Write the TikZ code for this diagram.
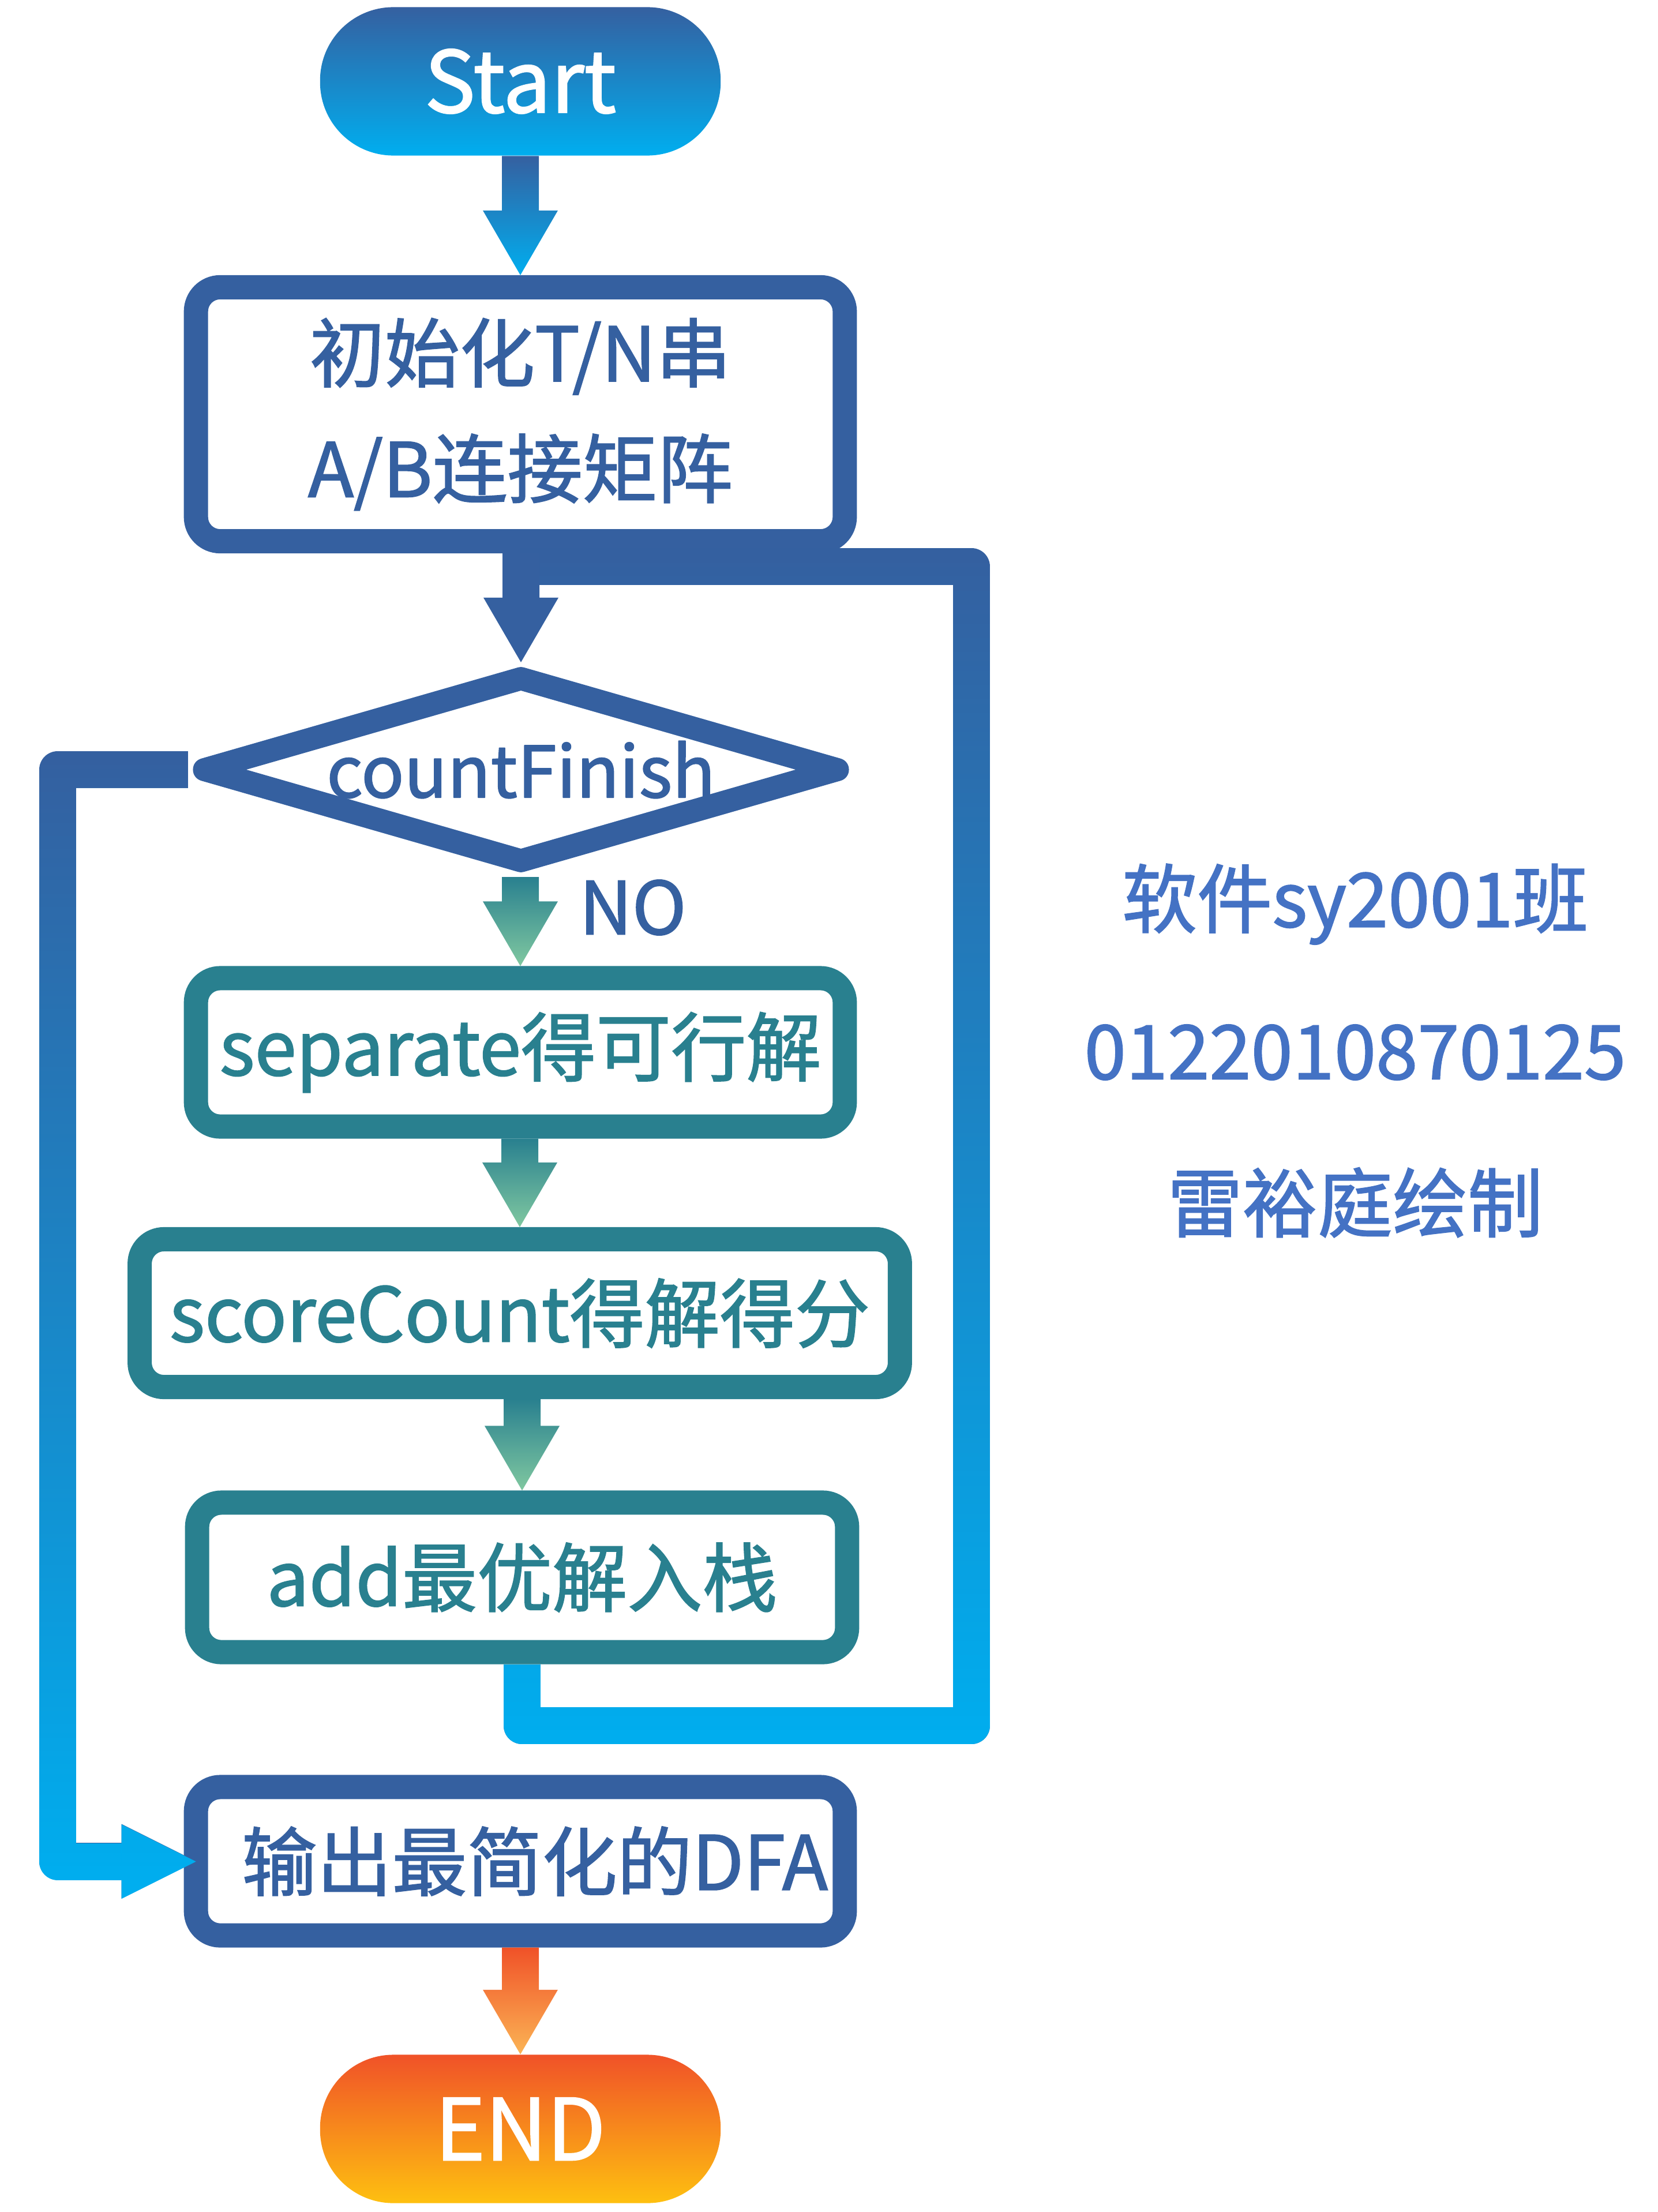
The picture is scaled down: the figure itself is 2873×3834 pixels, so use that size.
\documentclass[tikz,border=0pt]{standalone}
\usepackage{fontspec}
\setmainfont{Noto Sans CJK SC}[FakeBold=1.5]
\usetikzlibrary{calc,shapes.geometric,arrows.meta,fadings}
\definecolor{cblue}{RGB}{53,96,160}
\definecolor{ccyan}{RGB}{0,174,239}
\definecolor{cteal}{RGB}{41,128,143}
\definecolor{cmint}{RGB}{128,200,160}
\definecolor{cred}{RGB}{240,82,40}
\definecolor{cpeach}{RGB}{251,180,85}
\definecolor{cgold}{RGB}{254,192,16}
\definecolor{cword}{RGB}{68,114,196}
\tikzfading[name=updim, top color=transparent!100, bottom color=transparent!0]
\tikzset{
	boxtext/.style = {align=center, inner sep=0pt, text centered, font=\fontsize{37pt}{57pt}\selectfont},
	term/.style = {boxtext, rectangle, rounded corners=1.27cm, minimum width=6.94cm, minimum height=2.57cm, text=white, font=\fontsize{42pt}{50pt}\selectfont},
	blubox/.style = {boxtext, rectangle, draw=cblue, line width=0.42cm, rounded corners=0.42cm, fill=white, text=cblue},
	tealbox/.style = {blubox, draw=cteal, text=cteal},
	decide/.style = {boxtext, diamond, draw=cblue, line width=0.4cm, line join=round, fill=white, text=cblue, shape aspect=3.35, minimum width=11.13cm, minimum height=3.32cm, font=\fontsize{35pt}{40pt}\selectfont},
	backline/.style = {line width=0.64cm, line join=round},
	note/.style = {boxtext, text=cword}
}
\newcommand\flowarrow[4]{\shade [top color=#3, bottom color=#4] ($(#1 -| #2)+(-32,0)$) -- ($(#2)+(-32,-112)$) -- ($(#2)+(-65,-112)$) -- (#2) -- ($(#2)+(65,-112)$) -- ($(#2)+(32,-112)$) -- ($(#1 -| #2)+(32,0)$) -- cycle;}

\begin{document}
\begin{tikzpicture}[x=0.01cm, y=-0.01cm]
	\useasboundingbox (0,0) rectangle (2873,3834);
	\node [term, top color=cblue, bottom color=ccyan] (start) at (902,141) {Start};
	\node [blubox, minimum width=11.24cm, minimum height=4.4cm] (init) at (902,718) {初始化T/N串\\A/B连接矩阵};
	\node [decide] (cf) at (903,1334) {countFinish};
	\node [tealbox, minimum width=11.24cm, minimum height=2.57cm] (sep) at (902,1824) {separate得可行解};
	\node [tealbox, minimum width=13.17cm, minimum height=2.56cm] (score) at (901,2276) {scoreCount得解得分};
	\node [tealbox, minimum width=11.26cm, minimum height=2.59cm] (add) at (905,2734) {add最优解入栈};
	\node [blubox, minimum width=11.24cm, minimum height=2.57cm] (out) at (902,3226) {\hspace*{0.5cm}输出最简化的DFA};
	\node [term, top color=cred, bottom color=cgold] (end) at (902,3690) {END};
	\node [boxtext, text=cblue, font=\fontsize{36pt}{40pt}\selectfont] (no) at (1097,1573) {NO};
	\node [note, font=\fontsize{37pt}{75pt}\selectfont] (credit) at (2349,1821) {软件sy2001班\\0122010870125\\雷裕庭绘制};
	\coordinate (lpb) at (1684,2991);
	\coordinate (lpt) at (1684,982);
	\coordinate (lfc) at (100,0);
	\draw [backline, cblue] (add.south) |- (lpb) -- (lpt) -- (lpt -| init.south);
	\draw [backline, ccyan, path fading=updim] (add.south) |- (lpb) -- (lpt) -- (lpt -| init.south);
	\draw [backline, cblue, -{Triangle[length=1.29cm, width=1.29cm, line width=0pt]}, shorten >=-0.21cm] (cf.west) -- (cf.west -| lfc) |- (out.west);
	\draw [backline, ccyan, path fading=updim, -{Triangle[length=1.29cm, width=1.29cm, line width=0pt]}, shorten >=-0.21cm] (cf.west) -- (cf.west -| lfc) |- (out.west);
	\flowarrow{start.south}{init.north}{cblue}{ccyan}
	\flowarrow{init.south}{cf.north}{cblue}{cblue}
	\flowarrow{cf.south}{sep.north}{cteal}{cmint}
	\flowarrow{sep.south}{score.north}{cteal}{cmint}
	\flowarrow{score.south}{add.north}{cteal}{cmint}
	\flowarrow{out.south}{end.north}{cred}{cpeach}
\end{tikzpicture}
\end{document}
